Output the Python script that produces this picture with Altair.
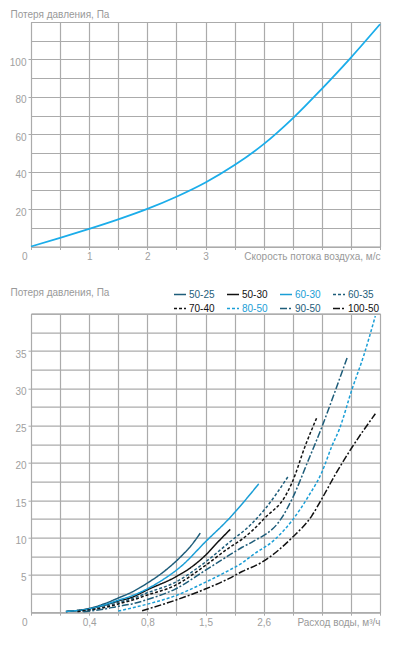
import altair as alt
import pandas as pd

# ---------- top chart: air side ----------
air_speed = [0, 0.5, 1, 1.5, 2, 2.5, 3, 3.5, 4, 4.5, 5, 5.5, 6]
air_loss = [0, 4.6, 9.4, 14.5, 20.1, 26.6, 34.2, 43.5, 54.7, 68.5, 84.3, 101, 118.8]
air_tick_labels = [1, 2, 3]

# ---------- bottom chart: water side (x in scale divisions) ----------
flow_tick_pos = [0, 2, 4, 6, 8]
flow_tick_labels = ["0", "0,4", "0,8", "1,5", "2,6"]

series_names = ["50-25", "50-30", "60-30", "60-35", "70-40", "80-50", "90-50", "100-50"]
teal, black, blue = "#1e5d7a", "#111111", "#1a9ed6"
series_colors = [teal, black, blue, teal, black, blue, teal, black]
series_dash = [[1, 0], [1, 0], [1, 0], [3, 2], [3, 2], [3, 2], [7, 2, 2, 2], [7, 2, 2, 2]]

s_50_25_x = [1.2, 2.0, 2.5, 3.0, 3.47, 4.0, 4.62, 5.19, 5.5, 5.82]
s_50_25_y = [0.1, 0.5, 1.1, 1.9, 2.7, 3.9, 5.6, 7.6, 8.9, 10.6]
s_50_30_x = [1.2, 2.0, 2.5, 3.0, 3.47, 4.0, 4.96, 5.5, 5.99, 6.4, 6.85]
s_50_30_y = [0.1, 0.45, 0.9, 1.5, 2.0, 3.0, 4.7, 6.0, 7.6, 9.3, 11.1]
s_60_30_x = [1.2, 2.0, 2.5, 3.0, 3.47, 4.39, 5.19, 5.99, 6.8, 7.6, 7.83]
s_60_30_y = [0.1, 0.45, 0.95, 1.6, 2.2, 4.0, 6.25, 9.4, 12.5, 16.1, 17.2]
s_60_35_x = [1.6, 2.5, 3.0, 3.47, 4.0, 4.96, 5.99, 6.8, 7.6, 8.06, 8.86]
s_60_35_y = [0.1, 0.7, 1.3, 1.8, 2.6, 4.0, 6.7, 9.3, 11.9, 13.9, 18.3]
s_70_40_x = [1.6, 2.5, 3.0, 3.47, 4.0, 4.96, 5.99, 6.8, 7.26, 7.6, 8.06, 8.75, 8.98, 9.43, 9.83]
s_70_40_y = [0.1, 0.6, 1.1, 1.6, 2.3, 3.6, 6.25, 8.6, 9.8, 10.9, 12.7, 15.6, 17.4, 22.3, 26.1]
s_80_50_x = [3.0, 3.82, 4.96, 5.99, 6.8, 7.26, 7.6, 8.4, 8.98, 9.55, 10.0, 10.35, 10.6, 11.04, 11.45, 11.84]
s_80_50_y = [0.15, 0.9, 2.2, 4.0, 5.6, 6.6, 7.6, 9.8, 12.3, 15.6, 18.75, 22.3, 24.5, 29.9, 34.5, 39.7]
s_90_50_x = [1.8, 2.5, 3.0, 3.47, 4.0, 4.96, 5.99, 6.8, 7.26, 7.6, 8.63, 8.98, 9.55, 10.0, 10.4, 10.87]
s_90_50_y = [0.05, 0.4, 0.8, 1.1, 1.7, 3.1, 5.6, 7.6, 8.7, 9.4, 12.7, 15.2, 20.5, 24.8, 29.0, 34.1]
s_100_50_x = [3.82, 4.96, 5.99, 6.8, 7.26, 7.94, 8.98, 9.66, 10.0, 10.5, 11.04, 11.84]
s_100_50_y = [0.2, 1.6, 3.1, 4.5, 5.45, 6.7, 10.0, 12.95, 15.2, 18.7, 22.1, 26.6]

series_x = [s_50_25_x, s_50_30_x, s_60_30_x, s_60_35_x, s_70_40_x, s_80_50_x, s_90_50_x, s_100_50_x]
series_y = [s_50_25_y, s_50_30_y, s_60_30_y, s_60_35_y, s_70_40_y, s_80_50_y, s_90_50_y, s_100_50_y]

rows = []
for name, xs, ys in zip(series_names, series_x, series_y):
    for i, (xv, yv) in enumerate(zip(xs, ys)):
        rows.append({"series": name, "pos": xv, "loss": yv, "i": i})
water_df = pd.DataFrame(rows)
air_df = pd.DataFrame({"speed": air_speed, "loss": air_loss})

FONT = "Liberation Sans"
LABEL_GRAY = "#a0a0a0"
TITLE_GRAY = "#999999"
GRID = "#ababab"

TOP_H = 224.5
BOT_H = 298.5
GAP = 66.7

# ---------- top chart ----------
air_label_expr = "datum.value == 0 ? '0' : (" + " || ".join(
    f"datum.value == {v}" for v in air_tick_labels) + ") ? format(datum.value, 'd') : ''"

top = alt.Chart(air_df).mark_line(color="#1badea", strokeWidth=1.8, interpolate="monotone").encode(
    x=alt.X("speed:Q",
            scale=alt.Scale(domain=[0, 6], nice=False, zero=True),
            axis=alt.Axis(values=[v / 2 for v in range(13)], labelExpr=air_label_expr,
                          labelAlign={"condition": {"test": "datum.value == 0", "value": "right"}, "value": "center"},
                          labelOffset={"condition": {"test": "datum.value == 0", "value": -4}, "value": 0},
                          title="Скорость потока воздуха, м/с", titleX=349, titleY=10,
                          titleAlign="right", titleBaseline="middle", titleAnchor="end")),
    y=alt.Y("loss:Q",
            scale=alt.Scale(domain=[0, 120], nice=False),
            axis=alt.Axis(values=list(range(0, 121, 10)),
                          labelExpr="datum.value % 20 == 0 && datum.value > 0 && datum.value < 120 ? datum.label : ''",
                          tickOpacity={"condition": {"test": "datum.value % 20 == 0 && datum.value > 0 && datum.value < 120", "value": 1}, "value": 0},
                          title="Потеря давления, Па", titleAngle=0, titleAlign="left",
                          titleBaseline="middle", titleX=-21, titleY=-8)),
).properties(width=349, height=TOP_H)

# ---------- bottom chart ----------
flow_label_expr = " : ".join(
    f"datum.value == {p} ? '{l}'" for p, l in zip(flow_tick_pos, flow_tick_labels)) + " : ''"

teal_names = [n for n, c in zip(series_names, series_colors) if c == teal]
blue_names = [n for n, c in zip(series_names, series_colors) if c == blue]
legend_color_expr = (
    "indexof([" + ",".join(f"'{n}'" for n in blue_names) + f"], datum.value) >= 0 ? '{blue}' : "
    "indexof([" + ",".join(f"'{n}'" for n in teal_names) + f"], datum.value) >= 0 ? '{teal}' : '{black}'"
)

bottom = alt.Chart(water_df).mark_line(strokeWidth=1.5, interpolate="monotone").encode(
    x=alt.X("pos:Q",
            scale=alt.Scale(domain=[0, 12], nice=False),
            axis=alt.Axis(values=list(range(13)), labelExpr=flow_label_expr,
                          labelAlign={"condition": {"test": "datum.value == 0", "value": "right"}, "value": "center"},
                          labelOffset={"condition": {"test": "datum.value == 0", "value": -4}, "value": 0},
                          title="Расход воды, м³/ч", titleX=349, titleY=10,
                          titleAlign="right", titleBaseline="middle", titleAnchor="end")),
    y=alt.Y("loss:Q",
            scale=alt.Scale(domain=[0, 40], nice=False),
            axis=alt.Axis(values=[v * 2.5 for v in range(17)],
                          labelExpr="datum.value % 5 == 0 && datum.value > 0 && datum.value < 40 ? datum.label : ''",
                          tickOpacity={"condition": {"test": "datum.value % 5 == 0 && datum.value > 0 && datum.value < 40", "value": 1}, "value": 0},
                          title="Потеря давления, Па", titleAngle=0, titleAlign="left",
                          titleBaseline="middle", titleX=-21, titleY=-21.7)),
    color=alt.Color("series:N", scale=alt.Scale(domain=series_names, range=series_colors),
                    legend=alt.Legend(title=None, orient="none", legendX=142,
                                      legendY=TOP_H + GAP - 25.7,
                                      direction="horizontal", columns=4, symbolType="stroke",
                                      symbolSize=144, symbolStrokeWidth=1.6, labelOffset=2,
                                      columnPadding=8, rowPadding=2, labelFontSize=10,
                                      labelFont=FONT, labelColor=alt.ExprRef(legend_color_expr))),
    strokeDash=alt.StrokeDash("series:N", scale=alt.Scale(domain=series_names, range=series_dash)),
    order="i:Q",
).properties(width=349, height=BOT_H)

chart = alt.vconcat(top, bottom, spacing=GAP, bounds="flush").properties(
    padding=0
).configure(font=FONT).configure_view(stroke="#9a9a9a", strokeWidth=1).configure_axis(
    grid=True, gridColor=GRID, gridWidth=1.2, domain=False,
    tickSize=3, tickColor=GRID, labelColor=LABEL_GRAY, labelFontSize=10, labelFont=FONT,
    labelPadding=2, titleColor=TITLE_GRAY, titleFontSize=10, titleFont=FONT,
    titleFontWeight="normal", labelFlush=False, labelOverlap=False
).configure_axisY(labelOffset=3, labelPadding=2)

chart.save("out.html", embed_options={"renderer": "svg", "actions": False})
